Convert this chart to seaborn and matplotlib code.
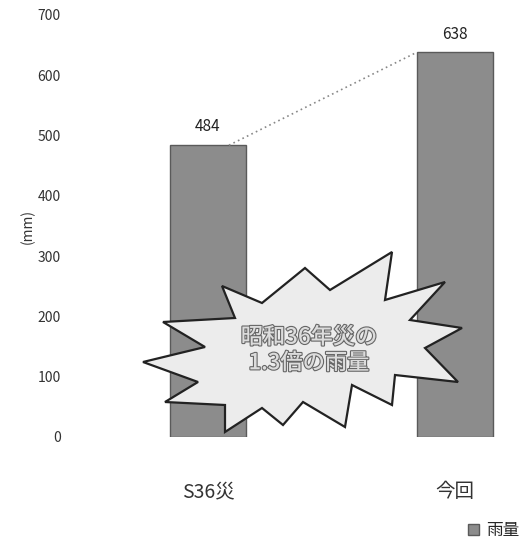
import numpy as np
import pandas as pd
import matplotlib
matplotlib.use("Agg")
import matplotlib.pyplot as plt
import matplotlib.patheffects as pe
from matplotlib.patches import Polygon, Patch
import seaborn as sns

categories = ["S36災", "今回"]
rainfall = [484, 638]
yticks = [0, 100, 200, 300, 400, 500, 600, 700]
series_name = "雨量"
callout = "昭和36年災の\n1.3倍の雨量"

sns.set_theme(style="white")
plt.rcParams['font.family'] = ['Noto Sans CJK JP', 'DejaVu Sans']

W, H = 531, 551
fig = plt.figure(figsize=(W / 100, H / 100), dpi=100)
ax = fig.add_axes([80 / W, (H - 437) / H, 451 / W, (437 - 15) / H])

df = pd.DataFrame({"cat": categories, "val": rainfall})
bw = 0.31
sns.barplot(data=df, x="cat", y="val", ax=ax, color="#8c8c8c", width=bw,
            edgecolor="#5a5a5a", linewidth=1.0, saturation=1)

for c in ax.containers:
    ax.bar_label(c, labels=[str(v) for v in rainfall], padding=7,
                 fontsize=11, color="#222222")

# dotted connector between the bar tops
ax.plot([0 + bw / 2 - 0.07, 1 - bw / 2], [rainfall[0], rainfall[1]],
        linestyle=(0, (1, 2)), color="#888888", linewidth=1.2, zorder=1)

ax.set_ylim(0, 700)
ax.set_xlim(-0.518, 1.308)
ax.set_yticks(yticks)
ax.set_yticklabels([str(t) for t in yticks], fontsize=10, color="#333333")
ax.set_xlabel("")
ax.set_ylabel("(mm)", fontsize=10, color="#333333", labelpad=2)
ax.tick_params(axis="y", length=0, pad=14)
ax.tick_params(axis="x", length=0, pad=32, labelsize=14, labelcolor="#333333")
for s in ax.spines.values():
    s.set_visible(False)
ax.grid(False)

# starburst callout (decoration, figure pixel coordinates)
star_px = [(143, 362), (205, 347), (163, 322), (235, 318), (222, 286),
           (262, 303), (305, 268), (330, 290), (392, 252), (385, 300),
           (445, 282), (410, 320), (462, 328), (425, 348), (458, 382),
           (395, 375), (392, 405), (352, 385), (345, 427), (303, 402),
           (283, 425), (262, 408), (225, 432), (225, 405), (165, 402),
           (198, 382)]
star = Polygon([(x / W, 1 - y / H) for x, y in star_px], closed=True,
               transform=fig.transFigure, facecolor="#ececec",
               edgecolor="#222222", linewidth=1.6, zorder=5)
fig.add_artist(star)
fig.text(309 / W, 1 - 350 / H, callout, ha="center", va="center",
         fontsize=16, color="#dcdcdc", linespacing=1.15, fontweight="medium",
         zorder=6,
         path_effects=[pe.withStroke(linewidth=1.6, foreground="#666666")])

handle = Patch(facecolor="#8c8c8c", edgecolor="#5a5a5a", label=series_name)
fig.legend(handles=[handle], loc="lower right", bbox_to_anchor=(1.0, 0.0),
           frameon=False, fontsize=12, handlelength=0.7, handleheight=0.7,
           handletextpad=0.4, borderaxespad=0.3)

fig.savefig("out.png", dpi=100)
